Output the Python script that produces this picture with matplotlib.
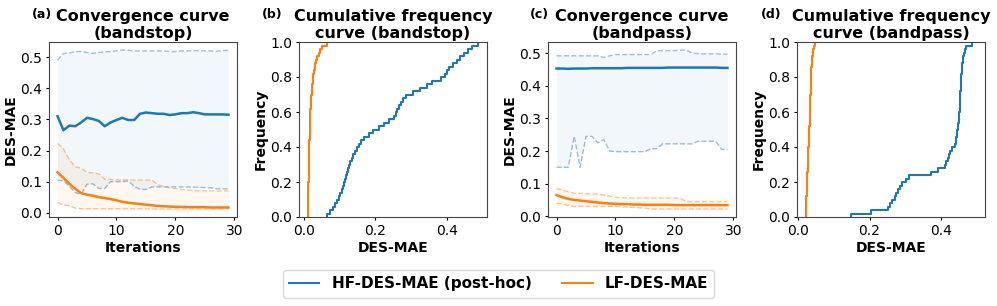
import numpy as np
import matplotlib.pyplot as plt

# ----------------------------
# Data
# ----------------------------
iterations = list(range(30))

# (a) bandstop convergence
hf_mean_bs = [0.310, 0.265, 0.280, 0.278, 0.290, 0.305, 0.301, 0.295, 0.278, 0.290,
              0.298, 0.305, 0.298, 0.298, 0.318, 0.322, 0.320, 0.318, 0.318, 0.314,
              0.316, 0.320, 0.320, 0.323, 0.320, 0.316, 0.316, 0.316, 0.316, 0.315]
hf_up_bs = [0.490, 0.512, 0.513, 0.518, 0.518, 0.515, 0.512, 0.515, 0.517, 0.518,
            0.520, 0.523, 0.522, 0.520, 0.520, 0.520, 0.520, 0.520, 0.520, 0.518,
            0.518, 0.520, 0.520, 0.521, 0.521, 0.520, 0.520, 0.519, 0.521, 0.522]
hf_lo_bs = [0.105, 0.103, 0.085, 0.065, 0.060, 0.092, 0.093, 0.078, 0.078, 0.100,
            0.100, 0.100, 0.102, 0.085, 0.075, 0.075, 0.083, 0.083, 0.083, 0.083,
            0.083, 0.083, 0.083, 0.082, 0.082, 0.081, 0.080, 0.077, 0.077, 0.077]
lf_mean_bs = [0.130, 0.112, 0.093, 0.077, 0.063, 0.058, 0.055, 0.050, 0.047, 0.044,
              0.040, 0.035, 0.032, 0.030, 0.028, 0.026, 0.024, 0.022, 0.021, 0.020,
              0.019, 0.019, 0.018, 0.018, 0.018, 0.018, 0.017, 0.017, 0.017, 0.017]
lf_up_bs = [0.223, 0.205, 0.170, 0.148, 0.143, 0.130, 0.128, 0.125, 0.108, 0.107,
            0.106, 0.106, 0.106, 0.105, 0.105, 0.105, 0.105, 0.090, 0.085, 0.080,
            0.078, 0.075, 0.073, 0.072, 0.071, 0.071, 0.070, 0.070, 0.070, 0.070]
lf_lo_bs = [0.033, 0.025, 0.023, 0.015, 0.013, 0.013, 0.013, 0.013, 0.013, 0.013,
            0.013, 0.013, 0.013, 0.013, 0.013, 0.013, 0.012, 0.012, 0.012, 0.012,
            0.012, 0.012, 0.012, 0.012, 0.012, 0.012, 0.012, 0.012, 0.012, 0.012]

# (c) bandpass convergence
hf_mean_bp = [0.453, 0.453, 0.452, 0.453, 0.453, 0.453, 0.454, 0.454, 0.454, 0.454,
              0.454, 0.454, 0.455, 0.455, 0.455, 0.455, 0.455, 0.455, 0.455, 0.456,
              0.456, 0.456, 0.456, 0.456, 0.456, 0.456, 0.456, 0.456, 0.455, 0.455]
hf_up_bp = [0.492, 0.492, 0.492, 0.492, 0.492, 0.492, 0.492, 0.492, 0.487, 0.492,
            0.496, 0.496, 0.496, 0.496, 0.496, 0.496, 0.496, 0.508, 0.508, 0.508,
            0.508, 0.509, 0.510, 0.500, 0.499, 0.498, 0.498, 0.498, 0.497, 0.497]
hf_lo_bp = [0.150, 0.150, 0.150, 0.245, 0.150, 0.245, 0.245, 0.225, 0.235, 0.200,
            0.198, 0.198, 0.198, 0.198, 0.198, 0.198, 0.207, 0.207, 0.222, 0.222,
            0.222, 0.222, 0.222, 0.222, 0.230, 0.230, 0.230, 0.230, 0.205, 0.205]
lf_mean_bp = [0.065, 0.058, 0.053, 0.050, 0.048, 0.046, 0.044, 0.042, 0.040, 0.039,
              0.038, 0.037, 0.037, 0.036, 0.036, 0.035, 0.035, 0.035, 0.035, 0.035,
              0.034, 0.034, 0.034, 0.034, 0.034, 0.034, 0.034, 0.034, 0.034, 0.034]
lf_up_bp = [0.085, 0.080, 0.075, 0.070, 0.070, 0.069, 0.068, 0.068, 0.065, 0.062,
            0.058, 0.057, 0.056, 0.056, 0.056, 0.056, 0.056, 0.056, 0.056, 0.056,
            0.056, 0.055, 0.045, 0.045, 0.045, 0.045, 0.045, 0.045, 0.045, 0.045]
lf_lo_bp = [0.040, 0.038, 0.033, 0.030, 0.030, 0.030, 0.030, 0.030, 0.030, 0.030,
            0.030, 0.029, 0.028, 0.027, 0.026, 0.025, 0.022, 0.022, 0.022, 0.022,
            0.022, 0.022, 0.022, 0.022, 0.022, 0.022, 0.022, 0.022, 0.022, 0.022]

# (b) bandstop per-sample DES-MAE (sorted)
hf_samples_bs = [0.065, 0.075, 0.081, 0.087, 0.093, 0.099, 0.103, 0.106, 0.110, 0.113,
                 0.116, 0.118, 0.121, 0.124, 0.127, 0.130, 0.134, 0.138, 0.143, 0.148,
                 0.154, 0.160, 0.170, 0.182, 0.195, 0.210, 0.225, 0.240, 0.252, 0.258,
                 0.262, 0.267, 0.272, 0.278, 0.285, 0.305, 0.325, 0.345, 0.358, 0.385,
                 0.395, 0.400, 0.408, 0.418, 0.428, 0.438, 0.450, 0.460, 0.470, 0.488]
lf_samples_bs = [0.011, 0.011, 0.012, 0.012, 0.012, 0.012, 0.013, 0.013, 0.013, 0.013,
                 0.014, 0.014, 0.014, 0.014, 0.015, 0.015, 0.015, 0.015, 0.016, 0.016,
                 0.016, 0.016, 0.017, 0.017, 0.017, 0.017, 0.018, 0.018, 0.018, 0.019,
                 0.019, 0.020, 0.020, 0.021, 0.021, 0.022, 0.023, 0.024, 0.025, 0.026,
                 0.027, 0.029, 0.031, 0.033, 0.035, 0.038, 0.042, 0.046, 0.052, 0.066]

# (d) bandpass per-sample DES-MAE (sorted)
hf_samples_bp = [0.148, 0.205, 0.252, 0.258, 0.264, 0.270, 0.275, 0.280, 0.285, 0.290,
                 0.302, 0.310, 0.372, 0.392, 0.410, 0.415, 0.420, 0.423, 0.426, 0.432,
                 0.438, 0.441, 0.443, 0.445, 0.446, 0.447, 0.448, 0.449, 0.450, 0.451,
                 0.452, 0.452, 0.453, 0.453, 0.454, 0.454, 0.455, 0.455, 0.456, 0.456,
                 0.457, 0.458, 0.459, 0.460, 0.461, 0.462, 0.464, 0.466, 0.470, 0.486]
lf_samples_bp = [0.021, 0.021, 0.022, 0.022, 0.023, 0.023, 0.024, 0.024, 0.025, 0.025,
                 0.026, 0.026, 0.026, 0.027, 0.027, 0.028, 0.028, 0.028, 0.029, 0.029,
                 0.030, 0.030, 0.030, 0.031, 0.031, 0.031, 0.032, 0.032, 0.032, 0.033,
                 0.033, 0.033, 0.034, 0.034, 0.034, 0.035, 0.035, 0.035, 0.036, 0.036,
                 0.036, 0.037, 0.037, 0.038, 0.039, 0.040, 0.042, 0.043, 0.045, 0.047]

BLUE = "#1f77b4"
ORANGE = "#ff7f0e"


def draw_band(ax, mean, lo, up, color):
    ax.fill_between(iterations, lo, up, color=color, alpha=0.06, lw=0)
    ax.plot(iterations, up, "--", color=color, lw=1, alpha=0.45)
    ax.plot(iterations, lo, "--", color=color, lw=1, alpha=0.45)
    ax.plot(iterations, mean, color=color, lw=1.8)


def put_title(ax, tag, text, tag_x):
    ax.set_title(text, fontsize=11.5, fontweight="bold", pad=3, linespacing=1.15)
    ax.text(tag_x, 1.14, tag, transform=ax.transAxes, fontsize=9,
            fontweight="bold", ha="left", va="baseline")


def label(ax, xl, yl):
    ax.set_xlabel(xl, fontsize=10, fontweight="bold", labelpad=2)
    ax.set_ylabel(yl, fontsize=10, fontweight="bold", labelpad=2)


fig = plt.figure(figsize=(9.97, 3.06), dpi=100)
W, H = 997, 306
lefts = [49, 299, 548, 797]
axes = [fig.add_axes([l / W, 1 - 217 / H, 188 / W, 175 / H]) for l in lefts]
ax_a, ax_b, ax_c, ax_d = axes

# (a)
draw_band(ax_a, hf_mean_bs, hf_lo_bs, hf_up_bs, BLUE)
draw_band(ax_a, lf_mean_bs, lf_lo_bs, lf_up_bs, ORANGE)
put_title(ax_a, "(a)", "Convergence curve\n(bandstop)", -0.09)
label(ax_a, "Iterations", "DES-MAE")
ax_a.set_xticks([0, 10, 20, 30])

# (b)
ax_b.ecdf(hf_samples_bs, color=BLUE, lw=1.5)
ax_b.ecdf(lf_samples_bs, color=ORANGE, lw=1.5)
put_title(ax_b, "(b)", "Cumulative frequency\ncurve (bandstop)", -0.198)
label(ax_b, "DES-MAE", "Frequency")
ax_b.set_ylim(0, 1)
ax_b.set_xlim(-0.013, 0.513)

# (c)
draw_band(ax_c, hf_mean_bp, hf_lo_bp, hf_up_bp, BLUE)
draw_band(ax_c, lf_mean_bp, lf_lo_bp, lf_up_bp, ORANGE)
put_title(ax_c, "(c)", "Convergence curve\n(bandpass)", -0.096)
label(ax_c, "Iterations", "DES-MAE")
ax_c.set_xticks([0, 10, 20, 30])

# (d)
ax_d.ecdf(hf_samples_bp, color=BLUE, lw=1.5)
ax_d.ecdf(lf_samples_bp, color=ORANGE, lw=1.5)
put_title(ax_d, "(d)", "Cumulative frequency\ncurve (bandpass)", -0.19)
label(ax_d, "DES-MAE", "Frequency")
ax_d.set_ylim(0, 1)
ax_d.set_xlim(-0.003, 0.523)

for ax in axes:
    ax.tick_params(labelsize=10, length=2.5, pad=2.5)
    for s in ax.spines.values():
        s.set_color("#444444")

handles = [plt.Line2D([], [], color=BLUE, lw=1.5),
           plt.Line2D([], [], color=ORANGE, lw=1.5)]
fig.legend(handles, ["HF-DES-MAE (post-hoc)", "LF-DES-MAE"], loc="center",
           bbox_to_anchor=(0.5, 0.072), ncol=2, prop={"weight": "bold", "size": 11},
           handlelength=2, columnspacing=2)

fig.savefig("out.png", dpi=100)
plt.close(fig)
